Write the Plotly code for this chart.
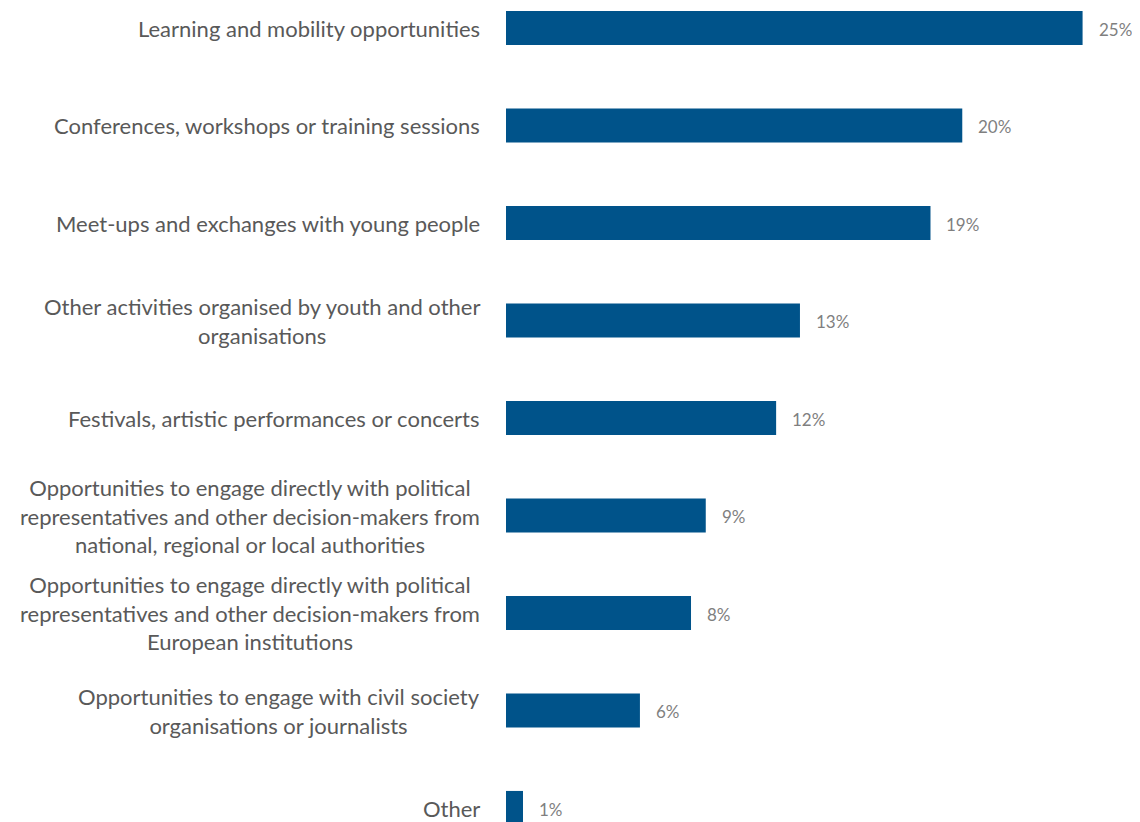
import plotly.graph_objects as go

categories = [
    "Learning and mobility opportunities",
    "Conferences, workshops or training sessions",
    "Meet-ups and exchanges with young people",
    "Other activities organised by youth and other<br>organisations",
    "Festivals, artistic performances or concerts",
    "Opportunities to engage directly with political<br>representatives and other decision-makers from<br>national, regional or local authorities",
    "Opportunities to engage directly with political<br>representatives and other decision-makers from<br>European institutions",
    "Opportunities to engage with civil society<br>organisations or journalists",
    "Other",
]
values = [25.4, 20.1, 18.7, 12.95, 11.9, 8.8, 8.15, 5.9, 0.75]
value_labels = ["25%", "20%", "19%", "13%", "12%", "9%", "8%", "6%", "1%"]

BAR_COLOR = "#00538A"
FONT = "Lato"

ypos = list(range(len(categories)))

fig = go.Figure()
fig.add_trace(go.Bar(
    x=values, y=ypos, orientation="h",
    marker=dict(color=BAR_COLOR, line=dict(width=0)),
    width=0.35, hoverinfo="skip",
))

for yi, cat in zip(ypos, categories):
    fig.add_annotation(
        x=0, y=yi, xref="x", yref="y", text=cat, showarrow=False,
        xanchor="right", yanchor="middle", align="center", xshift=-24,
        font=dict(family=FONT, size=22, color="#595959"),
    )
for yi, v, lab in zip(ypos, values, value_labels):
    fig.add_annotation(
        x=v, y=yi, xref="x", yref="y", text=lab, showarrow=False,
        xanchor="left", yanchor="middle", xshift=14, yshift=-1,
        font=dict(family=FONT, size=17, color="#7F7F7F"),
    )

# page body adds an 8px margin: figure is 1132x814, placed at (8, 8)
fig.update_layout(
    width=1132, height=814,
    margin=dict(l=498, r=0, t=0, b=0),
    paper_bgcolor="white", plot_bgcolor="white",
    showlegend=False,
    xaxis=dict(range=[0, 634 / 22.7], visible=False, fixedrange=True),
    yaxis=dict(range=[8 + 14 / 97.5, -20 / 97.5], visible=False, fixedrange=True),
)

fig.write_html("out.html")
